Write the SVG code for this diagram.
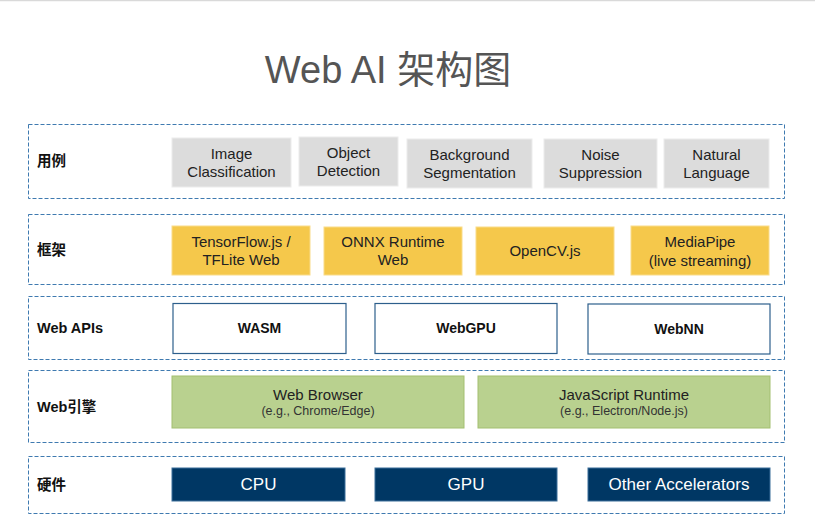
<svg xmlns="http://www.w3.org/2000/svg" width="815" height="526" viewBox="0 0 815 526">
<style>
.layer{fill:#fff;stroke:#3f7ab0;stroke-width:1;stroke-dasharray:4 2}
.lbl{font-family:"Liberation Sans","Noto Sans CJK SC",sans-serif;font-size:14.5px;font-weight:bold;fill:#111}
.t{font-family:"Liberation Sans","Noto Sans CJK SC",sans-serif;font-size:15px;fill:#222;text-anchor:middle}
.s{font-family:"Liberation Sans",sans-serif;font-size:12.5px;fill:#333;text-anchor:middle}
.b{font-family:"Liberation Sans",sans-serif;font-size:14px;font-weight:bold;fill:#111;text-anchor:middle}
.w{font-family:"Liberation Sans",sans-serif;font-size:17px;fill:#fff;text-anchor:middle}
.gray{fill:#dcdcdc;stroke:#ececec;stroke-width:1}
.yel{fill:#f5c84b;stroke:#f9dc8a;stroke-width:1}
.api{fill:#fff;stroke:#2d5f8c;stroke-width:1.2}
.grn{fill:#b9d18f;stroke:#a3bf70;stroke-width:1}
.hw{fill:#003764;stroke:#3a6e9a;stroke-width:1}
</style>
<rect x="0" y="0" width="815" height="526" fill="#fff"/>
<line x1="0" y1="0.5" x2="815" y2="0.5" stroke="#d9d9d9" stroke-width="1.5"/>
<text x="388" y="83" font-family="'Liberation Sans','Noto Sans CJK SC',sans-serif" font-size="38" fill="#555" text-anchor="middle">Web AI 架构图</text>

<g id="layer-usecases">
<rect class="layer" x="28.5" y="124.5" width="756" height="74"/>
<text class="lbl" x="37" y="166">用例</text>
</g>
<g id="layer-frameworks">
<rect class="layer" x="28.5" y="214.5" width="756" height="70"/>
<text class="lbl" x="37" y="255">框架</text>
</g>
<g id="layer-webapis">
<rect class="layer" x="28.5" y="296.5" width="756" height="63"/>
<text class="lbl" x="37" y="333">Web APIs</text>
</g>
<g id="layer-engine">
<rect class="layer" x="28.5" y="370.5" width="756" height="72"/>
<text class="lbl" x="37" y="412">Web引擎</text>
</g>
<g id="layer-hardware">
<rect class="layer" x="28.5" y="456.5" width="756" height="57"/>
<text class="lbl" x="37" y="490">硬件</text>
</g>

<g id="uc-image"><rect class="gray" x="172" y="138" width="119" height="49"/><text class="t" x="231.5" y="159">Image</text><text class="t" x="231.5" y="177">Classification</text></g>
<g id="uc-object"><rect class="gray" x="299" y="137" width="99" height="49"/><text class="t" x="348.5" y="158">Object</text><text class="t" x="348.5" y="176">Detection</text></g>
<g id="uc-background"><rect class="gray" x="407" y="139" width="125" height="49"/><text class="t" x="469.5" y="160">Background</text><text class="t" x="469.5" y="178">Segmentation</text></g>
<g id="uc-noise"><rect class="gray" x="544" y="139" width="113" height="49"/><text class="t" x="600.5" y="160">Noise</text><text class="t" x="600.5" y="178">Suppression</text></g>
<g id="uc-natural"><rect class="gray" x="664" y="139" width="105" height="49"/><text class="t" x="716.5" y="160">Natural</text><text class="t" x="716.5" y="178">Language</text></g>

<g id="fw-tf"><rect class="yel" x="172" y="226" width="138" height="49"/><text class="t" x="241" y="247">TensorFlow.js /</text><text class="t" x="241" y="265">TFLite Web</text></g>
<g id="fw-onnx"><rect class="yel" x="324" y="227" width="138" height="48"/><text class="t" x="393" y="247">ONNX Runtime</text><text class="t" x="393" y="265">Web</text></g>
<g id="fw-opencv"><rect class="yel" x="476" y="227" width="138" height="48"/><text class="t" x="545" y="256">OpenCV.js</text></g>
<g id="fw-mediapipe"><rect class="yel" x="631" y="226" width="138" height="49"/><text class="t" x="700" y="247">MediaPipe</text><text class="t" x="700" y="266">(live streaming)</text></g>

<g id="api-wasm"><rect class="api" x="173" y="303.5" width="173" height="50"/><text class="b" x="259.5" y="333">WASM</text></g>
<g id="api-webgpu"><rect class="api" x="375" y="303.5" width="182" height="50"/><text class="b" x="466" y="333">WebGPU</text></g>
<g id="api-webnn"><rect class="api" x="588" y="304" width="182" height="50"/><text class="b" x="679" y="334">WebNN</text></g>

<g id="eng-browser"><rect class="grn" x="172" y="376" width="292" height="52"/><text class="t" x="318" y="400">Web Browser</text><text class="s" x="318" y="415">(e.g., Chrome/Edge)</text></g>
<g id="eng-js"><rect class="grn" x="478" y="376" width="292" height="52"/><text class="t" x="624" y="400">JavaScript Runtime</text><text class="s" x="624" y="415">(e.g., Electron/Node.js)</text></g>

<g id="hw-cpu"><rect class="hw" x="172" y="468" width="173" height="33"/><text class="w" x="258.5" y="490">CPU</text></g>
<g id="hw-gpu"><rect class="hw" x="375" y="468" width="182" height="33"/><text class="w" x="466" y="490">GPU</text></g>
<g id="hw-other"><rect class="hw" x="588" y="468" width="182" height="33"/><text class="w" x="679" y="490">Other Accelerators</text></g>

<g id="connectors"></g>
</svg>
